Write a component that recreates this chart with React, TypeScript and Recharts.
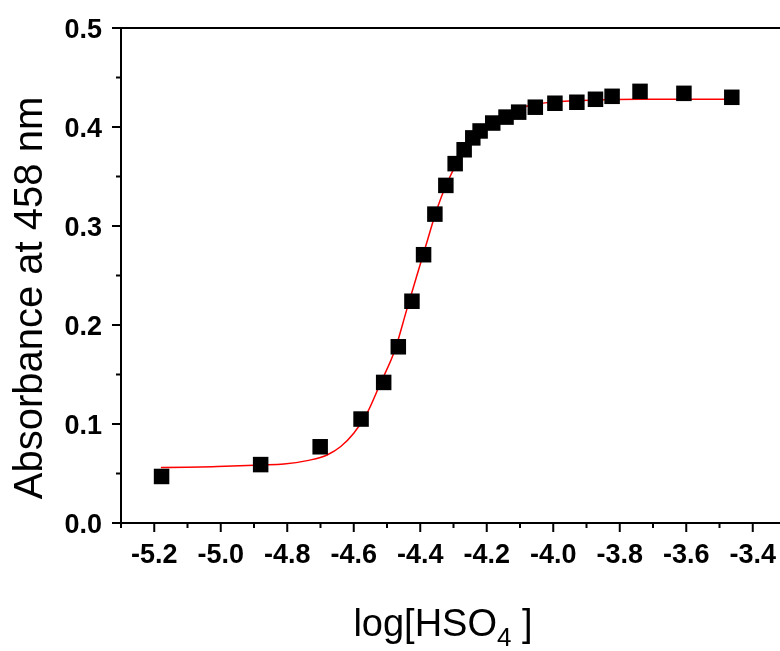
import { ComposedChart, Scatter, Line, XAxis, YAxis, ReferenceLine } from "recharts";

// measured points (squares)
const pointX = [
  -5.178, -4.88, -4.701, -4.578, -4.51, -4.466, -4.425, -4.39, -4.356, -4.323,
  -4.295, -4.268, -4.242, -4.22, -4.182, -4.142, -4.104, -4.054, -3.995, -3.929,
  -3.873, -3.823, -3.739, -3.607, -3.463,
];
const pointY = [
  0.047, 0.059, 0.077, 0.105, 0.142, 0.178, 0.224, 0.271, 0.312, 0.341,
  0.363, 0.377, 0.389, 0.396, 0.404, 0.41, 0.415, 0.42, 0.424, 0.425,
  0.428, 0.431, 0.436, 0.434, 0.43,
];

// fitted curve
const curveX = [
  -5.18, -5.01, -4.88, -4.81, -4.74, -4.68, -4.64, -4.6, -4.56, -4.52, -4.476,
  -4.441, -4.411, -4.381, -4.351, -4.32, -4.29, -4.26, -4.24, -4.19, -4.14,
  -4.08, -4.0, -3.89, -3.74, -3.46,
];
const curveY = [
  0.056, 0.057, 0.0586, 0.0596, 0.063, 0.0687, 0.077, 0.0906, 0.111, 0.141, 0.175,
  0.215, 0.249, 0.2825, 0.316, 0.343, 0.363, 0.377, 0.387, 0.403, 0.413,
  0.421, 0.4253, 0.427, 0.428, 0.428,
];

const xTicks = [
  -5.3, -5.2, -5.1, -5.0, -4.9, -4.8, -4.7, -4.6, -4.5, -4.4, -4.3, -4.2, -4.1,
  -4.0, -3.9, -3.8, -3.7, -3.6, -3.5, -3.4, -3.3,
];
const yTicks = [0, 0.05, 0.1, 0.15, 0.2, 0.25, 0.3, 0.35, 0.4, 0.45, 0.5];

const points = pointX.map((x, i) => ({ x, y: pointY[i] }));
const curve = curveX.map((x, i) => ({ x, y: curveY[i] }));

const font = "'Liberation Sans', Arial, sans-serif";

const XTick = ({ x, y, payload }: any) => {
  const v = payload.value as number;
  const major = Math.abs(Math.round(v * 10)) % 2 === 0;
  return (
    <g>
      <line x1={x} x2={x} y1={y} y2={y + (major ? 9 : 5)} stroke="#000" strokeWidth={2} />
      {major && (
        <text x={x} y={y + 40} textAnchor="middle" fontFamily={font} fontSize={27} fontWeight="bold" fill="#000">
          {v.toFixed(1)}
        </text>
      )}
    </g>
  );
};

const YTick = ({ x, y, payload }: any) => {
  const v = payload.value as number;
  const major = Math.round(v * 100) % 10 === 0;
  return (
    <g>
      <line x1={x} x2={x - (major ? 9 : 5)} y1={y} y2={y} stroke="#000" strokeWidth={2} />
      {major && (
        <text x={x - 19} y={y} dy="0.36em" textAnchor="end" fontFamily={font} fontSize={27} fontWeight="bold" fill="#000">
          {v.toFixed(1)}
        </text>
      )}
    </g>
  );
};

const Square = (props: any) => (
  <rect x={props.cx - 7.75} y={props.cy - 7.75} width={15.5} height={15.5} fill="#000" />
);

export default function App() {
  // fixed so the page never scrolls (the reference is cut at the right edge)
  return (
    <div style={{ position: "fixed", left: 8, top: 8, width: 772, height: 643, overflow: "hidden" }}>
      <ComposedChart width={800} height={643} margin={{ top: 20, right: 22, bottom: 0, left: 0 }}>
        <XAxis
          type="number"
          dataKey="x"
          domain={[-5.3, -3.3]}
          ticks={xTicks}
          interval={0}
          tickSize={0}
          tickMargin={0}
          tickLine={false}
          tick={<XTick />}
          axisLine={{ stroke: "#000", strokeWidth: 2 }}
          height={128}
          allowDataOverflow
        />
        <YAxis
          type="number"
          dataKey="y"
          domain={[0, 0.5]}
          ticks={yTicks}
          interval={0}
          tickSize={0}
          tickMargin={0}
          tickLine={false}
          tick={<YTick />}
          axisLine={{ stroke: "#000", strokeWidth: 2 }}
          width={113}
          allowDataOverflow
        />
        <ReferenceLine y={0.5} stroke="#000" strokeWidth={2} />
        <Scatter data={points} shape={<Square />} isAnimationActive={false} />
        <Line
          data={curve}
          dataKey="y"
          type="monotone"
          stroke="#ff0000"
          strokeWidth={1.5}
          dot={false}
          activeDot={false}
          isAnimationActive={false}
        />
      </ComposedChart>
      <svg width={772} height={643} style={{ position: "absolute", left: 0, top: 0, pointerEvents: "none" }}>
        <text transform="translate(34,290) rotate(-90)" textAnchor="middle" fontFamily={font} fontSize={40} fill="#000">
          Absorbance at 458 nm
        </text>
        <text x={435} y={628} textAnchor="middle" fontFamily={font} fontSize={38} fill="#000">
          log[HSO<tspan fontSize={26} dy={10}>4</tspan>
          <tspan dy={-10}> ]</tspan>
        </text>
      </svg>
    </div>
  );
}
